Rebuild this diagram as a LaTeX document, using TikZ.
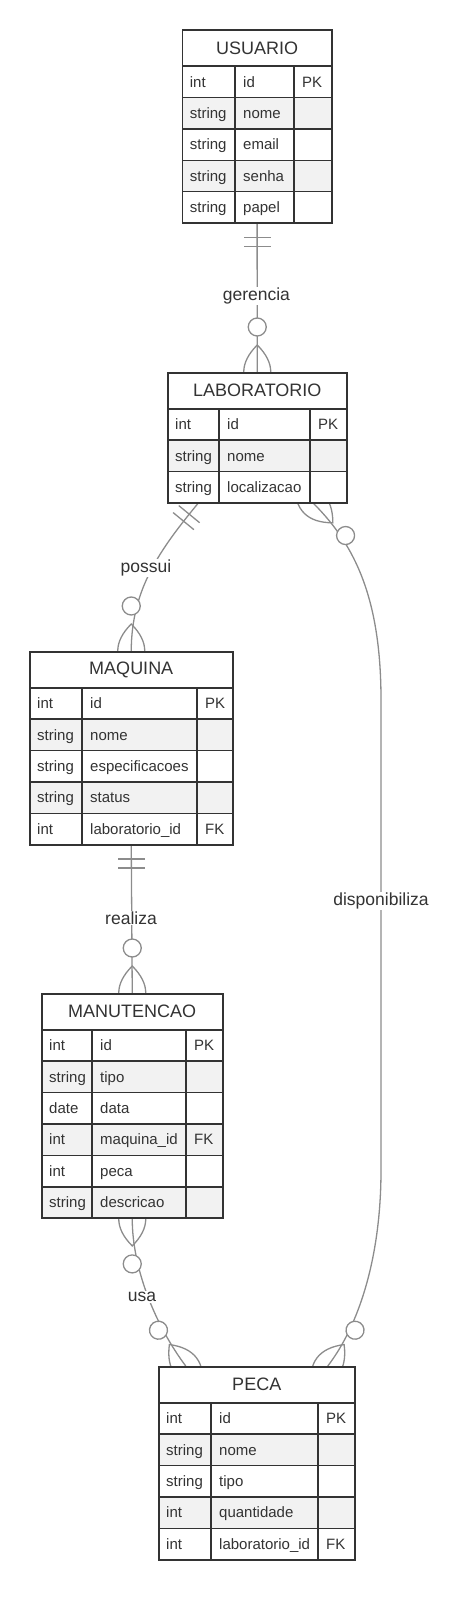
\documentclass[tikz,border=0pt]{standalone}
\usepackage{fontspec}
\setmainfont{Liberation Sans}
\usetikzlibrary{positioning, calc, backgrounds}

\definecolor{entline}{HTML}{333333}
\definecolor{enttext}{HTML}{333333}
\definecolor{rowgray}{HTML}{F2F2F2}
\definecolor{relline}{HTML}{8C8C8C}

\tikzstyle{ent_title} = [
    draw=entline,
    line width=1.5pt,
    fill=white,
    inner sep=0pt,
    minimum height=36pt,
    text=enttext,
    font=\fontsize{18}{21}\selectfont
]
\tikzstyle{ent_row} = [
    draw=entline,
    line width=1.5pt,
    inner sep=0pt,
    minimum height=31.4pt
]
\tikzstyle{ent_sep} = [
    draw=entline,
    line width=1.5pt
]
\tikzstyle{cell_text} = [
    anchor=base west,
    inner sep=0pt,
    text=enttext,
    font=\fontsize{15}{18}\selectfont
]
\tikzstyle{rel_line} = [
    draw=relline,
    line width=1.3pt
]
\tikzstyle{rel_label} = [
    fill=white,
    inner sep=1pt,
    text=enttext,
    font=\fontsize{17.5}{20}\selectfont
]

\tikzset{
    zero_many/.pic={
        \draw [rel_line] (-27,0) .. controls (-9,18) and (9,18) .. (27,0)
                         .. controls (9,-18) and (-9,-18) .. (-27,0);
        \draw [rel_line, fill=white] (45,0) circle [radius=9pt];
    },
    one_only/.pic={
        \draw [rel_line] (13.5,-13.5) -- (13.5,13.5)
                         (22.5,-13.5) -- (22.5,13.5);
    }
}

% #1 name, #2 left, #3 top, #4 first column, #5 second column, #6 width, #7 title, #8 rows
\newcommand{\erentity}[8]{
    \node [ent_title, minimum width=#6pt, anchor=north west] (#1) at (#2,#3) {#7};
    \foreach \ftype/\fname/\fkey [count=\i] in {#8} {
        \ifodd\i \def\rowfill{white}\else \def\rowfill{rowgray}\fi
        \node [ent_row, fill=\rowfill, minimum width=#6pt, anchor=north west]
            (#1-\i) at (#2,{#3+36+(\i-1)*31.4}) {};
        \draw [ent_sep] ($(#1-\i.north west)+(#4,0)$) -- ($(#1-\i.south west)+(#4,0)$);
        \draw [ent_sep] ($(#1-\i.north west)+(#5,0)$) -- ($(#1-\i.south west)+(#5,0)$);
        \node [cell_text] at ($(#1-\i.west)+(8,5.3)$) {\ftype};
        \node [cell_text] at ($(#1-\i.west)+(#4+8,5.3)$) {\fname};
        \node [cell_text] at ($(#1-\i.west)+(#5+8,5.3)$) {\fkey};
    }
}

\begin{document}
\begin{tikzpicture}[x=1pt, y=-1pt]
\useasboundingbox (0,0) rectangle (464,1600);

\erentity{usuario}{181.7}{29.3}{53.3}{112.3}{149.3}{USUARIO}
    {int/id/PK, string/nome/{}, string/email/{}, string/senha/{}, string/papel/{}}
\erentity{laboratorio}{167}{372}{52}{143}{179}{LABORATORIO}
    {int/id/PK, string/nome/{}, string/localizacao/{}}
\erentity{maquina}{29}{651}{53}{168}{203}{MAQUINA}
    {int/id/PK, string/nome/{}, string/especificacoes/{}, string/status/{}, int/laboratorio\_id/FK}
\erentity{manutencao}{41}{993}{51}{145}{181}{MANUTENCAO}
    {int/id/PK, string/tipo/{}, date/data/{}, int/maquina\_id/FK, int/peca/{}, string/descricao/{}}
\erentity{peca}{158}{1366}{53}{160}{196}{PECA}
    {int/id/PK, string/nome/{}, string/tipo/{}, int/quantidade/{}, int/laboratorio\_id/FK}

\begin{pgfonlayer}{background}
    \coordinate (dispo_top) at (381,700);
    \coordinate (dispo_bot) at (381,1170);
    % relationships
    \draw [rel_line] (usuario-5.south) -- (laboratorio.north);
    \draw [rel_line] ([xshift=-59.5pt]laboratorio-3.south)
        .. controls +(-37,45) and +(0,-62) .. (maquina.north);
    \draw [rel_line] (maquina-5.south) -- (manutencao.north);
    \draw [rel_line] (manutencao-6.south)
        .. controls +(0,50) and +(-30,-40) .. ([xshift=-71pt]peca.north);
    \draw [rel_line] ([xshift=56.5pt]laboratorio-3.south)
        .. controls +(42,42) and +(0,-100) .. (dispo_top)
        -- (dispo_bot)
        .. controls +(0,90) and +(30,-39) .. ([xshift=71pt]peca.north);
    % cardinalities
    \pic [rotate=-90] at (usuario-5.south) {one_only};
    \pic [rotate=90] at (laboratorio.north) {zero_many};
    \pic [rotate=-129.4] at ([xshift=-59.5pt]laboratorio-3.south) {one_only};
    \pic [rotate=90] at (maquina.north) {zero_many};
    \pic [rotate=-90] at (maquina-5.south) {one_only};
    \pic [rotate=90] at (manutencao.north) {zero_many};
    \pic [rotate=-90] at (manutencao-6.south) {zero_many};
    \pic [rotate=127.3] at ([xshift=-71pt]peca.north) {zero_many};
    \pic [rotate=-45] at ([xshift=56.5pt]laboratorio-3.south) {zero_many};
    \pic [rotate=52.7] at ([xshift=71pt]peca.north) {zero_many};
    % labels
    \node [rel_label] (lbl_gerencia) at (256.4,296) {gerencia};
    \node [rel_label] (lbl_possui) at (146,568) {possui};
    \node [rel_label] (lbl_realiza) at (131,918) {realiza};
    \node [rel_label] (lbl_usa) at (142,1297) {usa};
    \node [rel_label] (lbl_dispo) at (381,901) {disponibiliza};
\end{pgfonlayer}
\end{tikzpicture}
\end{document}
